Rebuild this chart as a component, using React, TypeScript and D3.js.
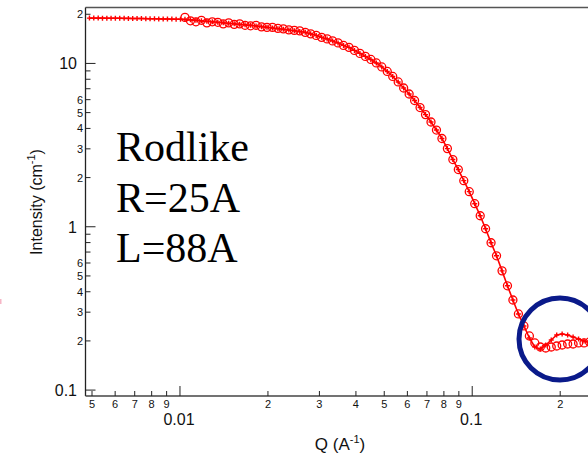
import React, { useEffect, useRef } from 'react';
import * as d3 from 'd3';

// measured data (Q in 1/A, intensity in 1/cm)
const dataQ = [
    0.0104, 0.01086, 0.01134, 0.01184, 0.01236, 0.0129, 0.01347, 0.01406, 0.01468, 0.01533,
    0.016, 0.0167, 0.01744, 0.01821, 0.01901, 0.01985, 0.02072, 0.02163, 0.02258, 0.02358,
    0.02462, 0.0257, 0.02683, 0.02801, 0.02925, 0.03053, 0.03188, 0.03328, 0.03475, 0.03628,
    0.03787, 0.03954, 0.04128, 0.0431, 0.045, 0.04698, 0.04904, 0.0512, 0.05346, 0.05581,
    0.05827, 0.06083, 0.06351, 0.0663, 0.06922, 0.07227, 0.07545, 0.07877, 0.08223, 0.08585,
    0.08963, 0.09357, 0.09769, 0.102, 0.1065, 0.1111, 0.116, 0.1211, 0.1265, 0.132,
    0.1378, 0.1439, 0.1503, 0.1569, 0.1638, 0.171, 0.1785, 0.1864, 0.1946, 0.2031,
    0.2121, 0.2214, 0.2312, 0.2413, 0.252,
];
const dataI = [
    19.15, 18.23, 17.98, 18.36, 17.72, 17.98, 17.85, 17.47, 17.72, 17.35,
    17.47, 17.11, 16.99, 17.11, 16.75, 16.63, 16.63, 16.40, 16.28, 16.05,
    15.94, 15.83, 15.50, 15.17, 14.85, 14.44, 14.13, 13.74, 13.36, 12.89,
    12.54, 12.02, 11.52, 11.04, 10.58, 10.07, 9.52, 8.93, 8.32, 7.70,
    7.07, 6.50, 5.93, 5.37, 4.86, 4.38, 3.91, 3.47, 3.01, 2.58,
    2.24, 1.915, 1.640, 1.384, 1.168, 0.972, 0.798, 0.664, 0.537, 0.435,
    0.356, 0.2925, 0.247, 0.2145, 0.1943, 0.1836, 0.1810, 0.1836, 0.1862, 0.1888,
    0.1915, 0.1915, 0.1943, 0.1943, 0.1970,
];

// rod model fit: low-Q extension, then at the data Q values
const modelLowQ = [
    0.0049, 0.00507, 0.00525, 0.00543, 0.00562, 0.00581, 0.00601, 0.00622, 0.00644, 0.00666,
    0.00689, 0.00713, 0.00738, 0.00764, 0.0079, 0.00818, 0.00846, 0.00876, 0.00906, 0.00938,
    0.0097, 0.01004,
];
const modelLowI = [
    18.95, 18.95, 18.94, 18.93, 18.92, 18.91, 18.9, 18.89, 18.88, 18.86,
    18.85, 18.83, 18.82, 18.8, 18.78, 18.76, 18.74, 18.72, 18.7, 18.68,
    18.66, 18.64,
];
const modelI = [
    18.62, 18.49, 18.36, 18.23, 18.10, 17.98, 17.85, 17.72, 17.60, 17.47,
    17.35, 17.23, 17.11, 16.94, 16.80, 16.63, 16.49, 16.33, 16.17, 16.01,
    15.85, 15.67, 15.50, 15.17, 14.85, 14.44, 14.13, 13.74, 13.36, 12.89,
    12.54, 12.02, 11.52, 11.04, 10.58, 10.07, 9.52, 8.93, 8.32, 7.70,
    7.07, 6.50, 5.93, 5.37, 4.86, 4.38, 3.91, 3.47, 3.01, 2.58,
    2.24, 1.915, 1.640, 1.384, 1.168, 0.972, 0.798, 0.664, 0.537, 0.435,
    0.356, 0.2925, 0.247, 0.2085, 0.1836, 0.1785, 0.1888, 0.2026, 0.2175, 0.2206,
    0.2175, 0.2114, 0.2056, 0.1998, 0.1943,
];

// ticks
const xMajorTicks = [0.01, 0.1];
const xMajorLabels = ['0.01', '0.1'];
const xMinorTicks = [0.005, 0.006, 0.007, 0.008, 0.009, 0.02, 0.03, 0.04, 0.05, 0.06, 0.07, 0.08, 0.09, 0.2];
const xMinorLabels = ['5', '6', '7', '8', '9', '2', '3', '4', '5', '6', '7', '8', '9', '2'];
const yMajorTicks = [0.1, 1, 10];
const yMajorLabels = ['0.1', '1', '10'];
const yMinorTicks = [0.2, 0.3, 0.4, 0.5, 0.6, 0.7, 0.8, 0.9, 2, 3, 4, 5, 6, 7, 8, 9, 20];
const yMinorLabels = ['2', '3', '4', '5', '6', '', '', '', '2', '3', '4', '5', '6', '', '', '', '2'];

const textLines = ['Rodlike', 'R=25A', 'L=88A'];

interface Pt { q: number; i: number; }

const W = 588;
const H = 454;

const App: React.FC = () => {
    const ref = useRef<SVGSVGElement>(null);

    useEffect(() => {
        const svg = d3.select(ref.current);
        svg.selectAll('*').remove();

        const left = 85.5, right = 588, top = 7.5, bottom = 396;
        const x = d3.scaleLog().domain([0.00475, 0.249]).range([left, right]);
        const y = d3.scaleLog().domain([0.092, 22]).range([bottom, top]);

        const data: Pt[] = dataQ.map((q, k) => ({ q, i: dataI[k] }));
        const model: Pt[] = modelLowQ.map((q, k) => ({ q, i: modelLowI[k] }))
            .concat(dataQ.map((q, k) => ({ q, i: modelI[k] })));

        const axisCol = '#222';
        const font = 'Liberation Sans, Arial, sans-serif';

        // frame
        svg.append('line').attr('x1', left).attr('x2', W).attr('y1', top).attr('y2', top)
            .attr('stroke', '#555').attr('stroke-width', 1.5);
        svg.append('line').attr('x1', left).attr('x2', left).attr('y1', top).attr('y2', bottom)
            .attr('stroke', axisCol).attr('stroke-width', 1.3);
        svg.append('line').attr('x1', left).attr('x2', W).attr('y1', bottom).attr('y2', bottom)
            .attr('stroke', '#444').attr('stroke-width', 1.5);

        // y ticks
        yMajorTicks.forEach((v, k) => {
            svg.append('line').attr('x1', left).attr('x2', left + 10).attr('y1', y(v)).attr('y2', y(v))
                .attr('stroke', axisCol).attr('stroke-width', 1);
            svg.append('text').attr('x', 77).attr('y', y(v)).attr('dy', '0.36em')
                .attr('text-anchor', 'end').attr('font-family', font).attr('font-size', 16)
                .attr('fill', '#111').text(yMajorLabels[k]);
        });
        yMinorTicks.forEach((v, k) => {
            svg.append('line').attr('x1', left).attr('x2', left + 5).attr('y1', y(v)).attr('y2', y(v))
                .attr('stroke', axisCol).attr('stroke-width', 1);
            if (yMinorLabels[k]) {
                svg.append('text').attr('x', 83).attr('y', y(v)).attr('dy', '0.36em')
                    .attr('text-anchor', 'end').attr('font-family', font).attr('font-size', 11)
                    .attr('fill', '#111').text(yMinorLabels[k]);
            }
        });

        // x ticks
        xMajorTicks.forEach((v, k) => {
            svg.append('line').attr('x1', x(v)).attr('x2', x(v)).attr('y1', bottom).attr('y2', bottom - 10)
                .attr('stroke', axisCol).attr('stroke-width', 1);
            svg.append('text').attr('x', x(v) - 1).attr('y', 425)
                .attr('text-anchor', 'middle').attr('font-family', font).attr('font-size', 16)
                .attr('fill', '#111').text(xMajorLabels[k]);
        });
        xMinorTicks.forEach((v, k) => {
            svg.append('line').attr('x1', x(v)).attr('x2', x(v)).attr('y1', bottom).attr('y2', bottom - 5)
                .attr('stroke', axisCol).attr('stroke-width', 1);
            svg.append('text').attr('x', x(v)).attr('y', 408)
                .attr('text-anchor', 'middle').attr('font-family', font).attr('font-size', 11)
                .attr('fill', '#111').text(xMinorLabels[k]);
        });

        // axis titles
        const yt = svg.append('text').attr('transform', 'translate(42,202) rotate(-90)')
            .attr('text-anchor', 'middle').attr('font-family', font).attr('font-size', 16).attr('fill', '#111');
        yt.append('tspan').text('Intensity (cm');
        yt.append('tspan').attr('dy', -7).attr('font-size', 11).text('-1');
        yt.append('tspan').attr('dy', 7).text(')');

        const xt = svg.append('text').attr('x', 340).attr('y', 450)
            .attr('text-anchor', 'middle').attr('font-family', font).attr('font-size', 17).attr('fill', '#111');
        xt.append('tspan').text('Q (A');
        xt.append('tspan').attr('dy', -7).attr('font-size', 11).text('-1');
        xt.append('tspan').attr('dy', 7).text(')');

        // model line with plus markers
        const line = d3.line<Pt>().x(d => x(d.q)).y(d => y(d.i));
        svg.append('path').datum(model).attr('fill', 'none').attr('stroke', '#ff0000')
            .attr('stroke-width', 1.6).attr('d', line);
        svg.append('g').selectAll('path').data(model).enter().append('path')
            .attr('d', d => `M${x(d.q) - 2.5},${y(d.i)}h5M${x(d.q)},${y(d.i) - 2.5}v5`)
            .attr('stroke', '#ff0000').attr('stroke-width', 1.4).attr('fill', 'none');

        // data circles
        svg.append('g').selectAll('circle').data(data).enter().append('circle')
            .attr('cx', d => x(d.q)).attr('cy', d => y(d.i)).attr('r', 4)
            .attr('fill', 'none').attr('stroke', '#ff0000').attr('stroke-width', 1.3);

        // annotation
        textLines.forEach((t, k) => {
            svg.append('text').attr('x', 116).attr('y', 161 + k * 50.5)
                .attr('font-family', 'Liberation Serif, Times New Roman, serif').attr('font-size', 42)
                .attr('fill', '#000').text(t);
        });

        // highlight circle
        svg.append('circle').attr('cx', 560).attr('cy', 339).attr('r', 41)
            .attr('fill', 'none').attr('stroke', '#0a1a8a').attr('stroke-width', 5);

        // small clipped mark at left edge
        svg.append('rect').attr('x', 0).attr('y', 299).attr('width', 1.5).attr('height', 5)
            .attr('fill', '#f6b6c6');
    }, []);

    return <svg ref={ref} width={W} height={H} style={{ position: 'absolute', left: 0, top: 0, background: '#fff' }}></svg>;
};

export default App;
